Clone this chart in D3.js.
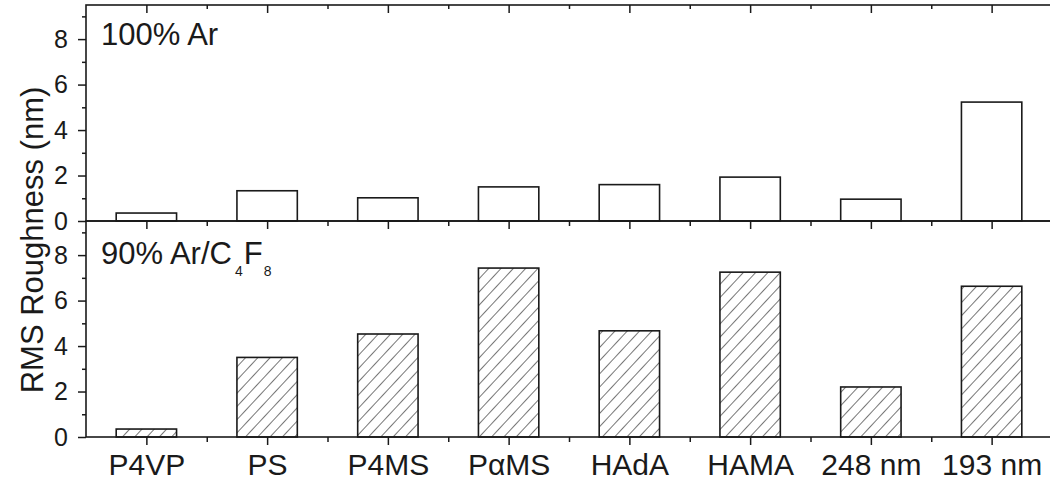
<!DOCTYPE html>
<html>
<head>
<meta charset="utf-8">
<script src="https://cdn.jsdelivr.net/npm/d3@7"></script>
<style>
  body { margin: 0; background: #fff; }
  svg { display: block; font-family: "Liberation Sans", Arial, sans-serif; }
  .domain { display: none; }
</style>
</head>
<body>
<svg id="chart" width="1050" height="485"></svg>
<script>
// categories and values
const polymers = ['P4VP', 'PS', 'P4MS', 'P\u03b1MS', 'HAdA', 'HAMA', '248 nm', '193 nm'];
const arValues = [0.35, 1.33, 1.02, 1.5, 1.6, 1.93, 0.96, 5.23];
const arC4F8Values = [0.35, 3.5, 4.53, 7.43, 4.67, 7.25, 2.2, 6.63];
const yTicks = [0, 2, 4, 6, 8];
const yMinor = [1, 3, 5, 7, 9];

(function () {
  const svg = d3.select('#chart');
  const ink = '#1a1a1a';
  const left = 86, right = 1052, yTop = 5, yMid = 221, yBot = 437;

  // hatch pattern for the lower panel
  const defs = svg.append('defs');
  defs.append('pattern')
    .attr('id', 'hatch')
    .attr('patternUnits', 'userSpaceOnUse')
    .attr('width', 9).attr('height', 9)
    .attr('patternTransform', 'rotate(43)')
    .append('line')
    .attr('x1', 0).attr('y1', 0).attr('x2', 0).attr('y2', 9)
    .attr('stroke', ink).attr('stroke-width', 1.2);

  const x = d3.scaleLinear().domain([0.5, polymers.length + 0.5]).range([left, right]);
  const catIdx = polymers.map((_, i) => i + 1);
  const minorX = d3.range(1.5, polymers.length, 1);
  const barW = x(1) - x(0.5);

  const panels = [
    { values: arValues, y0: yTop, y1: yMid, fill: '#fff' },
    { values: arC4F8Values, y0: yMid, y1: yBot, fill: 'url(#hatch)' }
  ];

  const styleTicks = sel => sel.selectAll('line').attr('stroke', ink).attr('stroke-width', 1.5);

  panels.forEach((p, pi) => {
    const y = d3.scaleLinear().domain([0, 9.5]).range([p.y1, p.y0]);
    const g = svg.append('g');

    // bars
    g.selectAll('rect.bar')
      .data(p.values)
      .enter()
      .append('rect')
      .attr('class', 'bar')
      .attr('x', (d, i) => x(i + 1) - barW / 2)
      .attr('width', barW)
      .attr('y', d => y(d))
      .attr('height', d => y(0) - y(d))
      .attr('fill', p.fill)
      .attr('stroke', ink)
      .attr('stroke-width', 1.6);

    // left axis, major + minor
    const la = g.append('g').attr('transform', `translate(${left},0)`)
      .call(d3.axisLeft(y).tickValues(yTicks).tickSize(8).tickPadding(10).tickFormat(d3.format('d')));
    styleTicks(la);
    la.selectAll('text').attr('fill', ink).style('font-size', '25px');
    styleTicks(g.append('g').attr('transform', `translate(${left},0)`)
      .call(d3.axisLeft(y).tickValues(yMinor).tickSize(4).tickFormat('')));

    // bottom axis of panel
    const ba = g.append('g').attr('transform', `translate(0,${p.y1})`)
      .call(d3.axisBottom(x).tickValues(catIdx).tickSize(8).tickPadding(9)
        .tickFormat(pi === 1 ? (d => polymers[d - 1]) : ''));
    styleTicks(ba);
    ba.selectAll('text').attr('fill', ink).style('font-size', '30px');
    styleTicks(g.append('g').attr('transform', `translate(0,${p.y1})`)
      .call(d3.axisBottom(x).tickValues(minorX).tickSize(5).tickFormat('')));

    // top ticks on the upper panel
    if (pi === 0) {
      styleTicks(g.append('g').attr('transform', `translate(0,${p.y0})`)
        .call(d3.axisBottom(x).tickValues(catIdx).tickSize(8).tickFormat('')));
      styleTicks(g.append('g').attr('transform', `translate(0,${p.y0})`)
        .call(d3.axisBottom(x).tickValues(minorX).tickSize(4).tickFormat('')));
    }

    // frame
    g.append('rect')
      .attr('x', left).attr('y', p.y0)
      .attr('width', right - left).attr('height', p.y1 - p.y0)
      .attr('fill', 'none').attr('stroke', ink).attr('stroke-width', 1.6);
  });

  // panel labels
  svg.append('text').attr('x', 101).attr('y', 45).attr('fill', ink)
    .style('font-size', '31px').text('100% Ar');

  const lbl = svg.append('text').attr('x', 101).attr('y', 264).attr('fill', ink).style('font-size', '31px');
  lbl.append('tspan').text('90% Ar/C');
  lbl.append('tspan').attr('dy', 12).attr('dx', 3).style('font-size', '14px').text('4');
  lbl.append('tspan').attr('dy', -12).attr('dx', 1).text('F');
  lbl.append('tspan').attr('dy', 12).attr('dx', 1).style('font-size', '14px').text('8');

  // y axis title
  svg.append('text')
    .attr('transform', 'translate(43,240) rotate(-90)')
    .attr('text-anchor', 'middle')
    .attr('fill', ink)
    .style('font-size', '31px')
    .text('RMS Roughness (nm)');
})();
</script>
</body>
</html>
